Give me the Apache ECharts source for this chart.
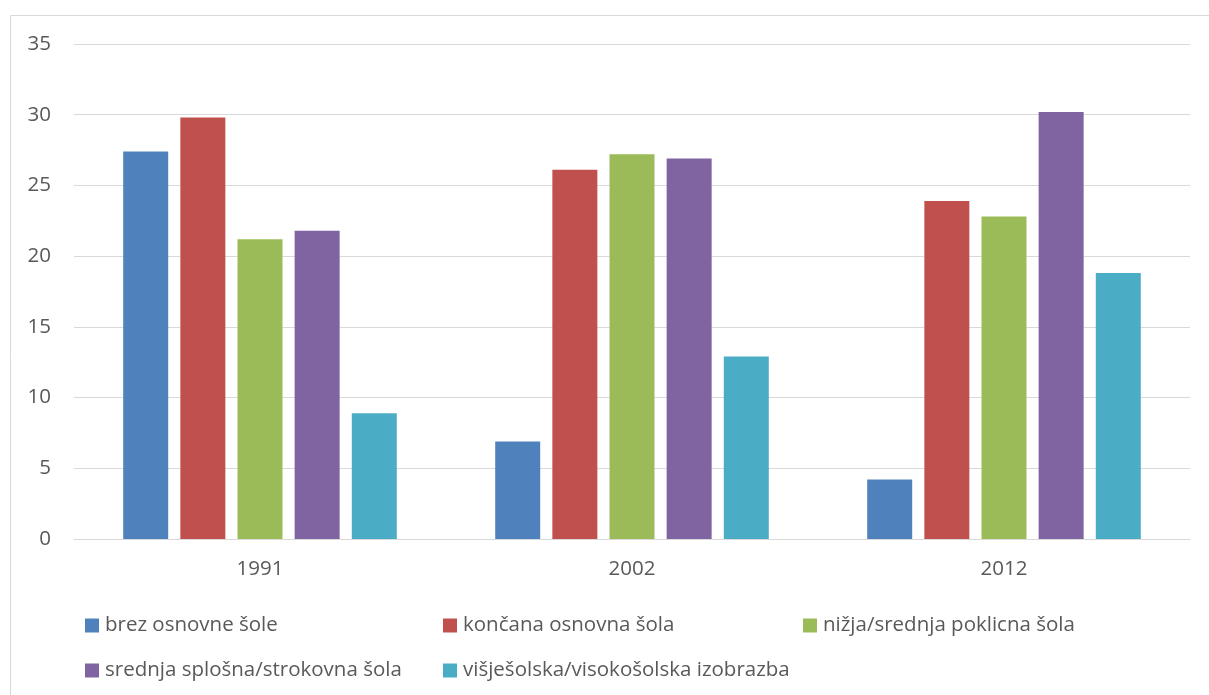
<!DOCTYPE html>
<html><head><meta charset="utf-8">
<script src="https://cdn.jsdelivr.net/npm/echarts@6/dist/echarts.min.js"></script>
<style>html,body{margin:0;padding:0;background:#fff}#c{width:1209px;height:695px}</style>
</head><body><div id="c"></div>
<script>
const categories = ['1991', '2002', '2012'];
const seriesNames = ['brez osnovne šole', 'končana osnovna šola', 'nižja/srednja poklicna šola', 'srednja splošna/strokovna šola', 'višješolska/visokošolska izobrazba'];
const brezOsnovne = [27.4, 6.9, 4.2];
const koncanaOsnovna = [29.8, 26.1, 23.9];
const nizjaSrednja = [21.2, 27.2, 22.8];
const srednjaSplosna = [21.8, 26.9, 30.2];
const visjesolska = [8.9, 12.9, 18.8];
const yTicks = { min: 0, max: 35, interval: 5 };

const values = [brezOsnovne, koncanaOsnovna, nizjaSrednja, srednjaSplosna, visjesolska];
const colors = ['#4F81BD', '#C0504D', '#9BBB59', '#8064A2', '#4BACC6'];
const FONT = 'Open Sans';
const legendPos = [[85, 615], [443, 615], [803, 615], [85, 660], [443, 660]];

const chart = echarts.init(document.getElementById('c'), null, { renderer: 'canvas' });
chart.setOption({
  animation: false,
  backgroundColor: '#fff',
  graphic: [{ type: 'rect', shape: { x: 10.5, y: 15.5, width: 1220, height: 700 }, style: { fill: 'none', stroke: '#d9d9d9', lineWidth: 1 }, silent: true }],
  grid: { left: 74, right: 19, top: 44, bottom: 156 },
  legend: seriesNames.map((n, i) => ({
    data: [n], left: legendPos[i][0], top: legendPos[i][1], padding: 0, itemWidth: 14, itemHeight: 14, itemGap: 6,
    icon: 'rect', textStyle: { fontFamily: FONT, fontSize: 20.5, color: '#595959', padding: [0, 0, 0, 1] }, selectedMode: false
  })),
  xAxis: {
    type: 'category', data: categories,
    axisLine: { lineStyle: { color: '#d9d9d9', width: 1 } },
    axisTick: { show: false },
    axisLabel: { fontFamily: FONT, fontSize: 20.5, color: '#595959', margin: 20 }
  },
  yAxis: {
    type: 'value', min: yTicks.min, max: yTicks.max, interval: yTicks.interval,
    axisLine: { show: false }, axisTick: { show: false },
    splitLine: { lineStyle: { color: '#d9d9d9', width: 1 } },
    axisLabel: { fontFamily: FONT, fontSize: 20.5, color: '#595959', margin: 23 }
  },
  series: seriesNames.map((n, i) => ({
    name: n, type: 'bar', data: values[i], barWidth: 45, barGap: '27%',
    itemStyle: { color: colors[i] }
  }))
});
</script></body></html>
